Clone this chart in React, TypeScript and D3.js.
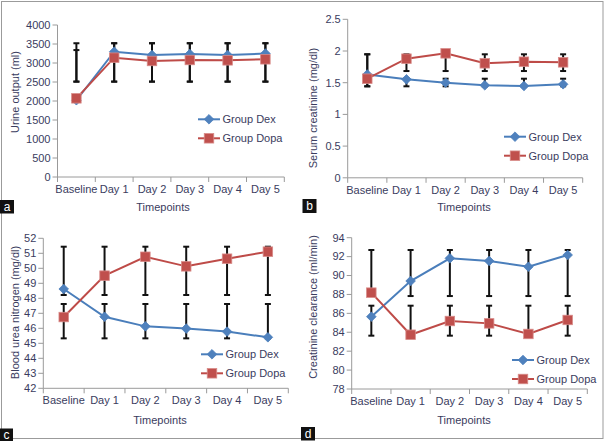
import React from "react";
import * as d3 from "d3";

const categories = ["Baseline", "Day 1", "Day 2", "Day 3", "Day 4", "Day 5"];
const seriesNames = ["Group Dex", "Group Dopa"];

// a: Urine output
const urineDex = [2020, 3297, 3210, 3237, 3210, 3250];
const urineDopa = [2070, 3140, 3053, 3079, 3070, 3097];
const urineDexLow = [2510, 2510, 2510, 2510, 2510, 2510];
const urineDexHigh = [3520, 3520, 3520, 3520, 3520, 3520];
const urineDopaLow = [2510, 2510, 2510, 2510, 2510, 2510];
const urineDopaHigh = [3340, 3520, 3520, 3520, 3520, 3520];
const urineTicks = [0, 500, 1000, 1500, 2000, 2500, 3000, 3500, 4000];

// b: Serum creatinine
const creatDex = [1.63, 1.553, 1.5, 1.459, 1.448, 1.475];
const creatDopa = [1.563, 1.879, 1.963, 1.806, 1.831, 1.821];
const creatDexLow = [1.443, 1.443, 1.443, 1.443, 1.443, 1.443];
const creatDexHigh = [1.948, 1.563, 1.563, 1.563, 1.563, 1.563];
const creatDopaLow = [1.443, 1.684, 1.684, 1.684, 1.684, 1.684];
const creatDopaHigh = [1.948, 1.948, 1.948, 1.948, 1.948, 1.948];
const creatTicks = [0, 0.5, 1, 1.5, 2, 2.5];

// c: Blood urea nitrogen
const bunDex = [48.62, 46.77, 46.13, 45.98, 45.78, 45.4];
const bunDopa = [46.75, 49.51, 50.77, 50.13, 50.64, 51.11];
const bunDexLow = [45.33, 45.33, 45.33, 45.33, 45.33, 45.33];
const bunDexHigh = [47.62, 47.62, 47.62, 47.62, 47.62, 47.62];
const bunDopaLow = [48.22, 48.22, 48.22, 48.22, 48.22, 48.22];
const bunDopaHigh = [51.44, 51.44, 51.44, 51.44, 51.44, 51.44];
const bunTicks = [42, 43, 44, 45, 46, 47, 48, 49, 50, 51, 52];

// d: Creatinine clearance
const clrDex = [85.65, 89.42, 91.82, 91.54, 90.93, 92.17];
const clrDopa = [88.19, 83.74, 85.19, 84.94, 83.82, 85.3];
const clrDexLow = [87.83, 87.83, 87.83, 87.83, 87.83, 87.83];
const clrDexHigh = [92.7, 92.7, 92.7, 92.7, 92.7, 92.7];
const clrDopaLow = [83.64, 83.64, 83.64, 83.64, 83.64, 83.64];
const clrDopaHigh = [86.81, 86.81, 86.81, 86.81, 86.81, 86.81];
const clrTicks = [78, 80, 82, 84, 86, 88, 90, 92, 94];

const yTitles = [
  "Urine output (ml)",
  "Serum creatinine (mg/dl)",
  "Blood urea nitrogen (mg/dl)",
  "Creatinine clearance (ml/min)",
];
const panelTags = ["a", "b", "c", "d"];
const xTitle = "Timepoints";

const panelsData = [
  { dex: urineDex, dopa: urineDopa, dexLow: urineDexLow, dexHigh: urineDexHigh, dopaLow: urineDopaLow, dopaHigh: urineDopaHigh, ticks: urineTicks },
  { dex: creatDex, dopa: creatDopa, dexLow: creatDexLow, dexHigh: creatDexHigh, dopaLow: creatDopaLow, dopaHigh: creatDopaHigh, ticks: creatTicks },
  { dex: bunDex, dopa: bunDopa, dexLow: bunDexLow, dexHigh: bunDexHigh, dopaLow: bunDopaLow, dopaHigh: bunDopaHigh, ticks: bunTicks },
  { dex: clrDex, dopa: clrDopa, dexLow: clrDexLow, dexHigh: clrDexHigh, dopaLow: clrDopaLow, dopaHigh: clrDopaHigh, ticks: clrTicks },
];

// layout (pixels)
const layouts = [
  { x0: 57.5, x1: 284.3, yTop: 25, yBot: 177, legX: 198, legY: 119.3, tX: 163, tY: 207.5, ytX: 15, ytY: 92, tag: [0, 200, 14, 13.5] },
  { x0: 347.7, x1: 582.7, yTop: 19.3, yBot: 177.8, legX: 504, legY: 136.7, tX: 464, tY: 207.5, ytX: 313.5, ytY: 108, tag: [302.5, 199, 14, 14] },
  { x0: 43.3, x1: 288.3, yTop: 238.3, yBot: 388.3, legX: 201, legY: 354.3, tX: 160, tY: 420.5, ytX: 15, ytY: 312.5, tag: [0, 428.5, 13, 12.5] },
  { x0: 351.7, x1: 587.3, yTop: 237.7, yBot: 389, legX: 512, legY: 360, tX: 464, tY: 420.5, ytX: 313.5, ytY: 307, tag: [301, 427, 14, 13.5] },
];

const DEX_LINE = "#4A7EBB";
const DEX_FILL = "#4F81BD";
const DOPA_LINE = "#BE4B48";
const DOPA_FILL = "#C0504D";
const AXIS = "#9a9a9a";
const TEXT = "#3a3c5e";
const FONT = "'Liberation Sans', Arial, sans-serif";

function Diamond({ x, y, r = 4.8 }: { x: number; y: number; r?: number }) {
  return (
    <path
      d={`M${x},${y - r}L${x + r},${y}L${x},${y + r}L${x - r},${y}Z`}
      fill={DEX_FILL}
      stroke={DEX_LINE}
      strokeWidth={0.8}
    />
  );
}

function Square({ x, y, s = 9.5 }: { x: number; y: number; s?: number }) {
  return (
    <rect x={x - s / 2} y={y - s / 2} width={s} height={s} fill={DOPA_FILL} stroke="#d88a88" strokeWidth={0.8} />
  );
}

function Panel({ idx }: { idx: number }) {
  const p = panelsData[idx];
  const L = layouts[idx];
  const ticks = p.ticks;
  const y = d3
    .scaleLinear()
    .domain([ticks[0], ticks[ticks.length - 1]])
    .range([L.yBot, L.yTop]);
  const xb = d3.scaleBand<string>().domain(categories).range([L.x0, L.x1]).padding(0);
  const cx = (c: string) => (xb(c) as number) + xb.bandwidth() / 2;
  const line = d3
    .line<number>()
    .x((_, i) => cx(categories[i]))
    .y((v) => y(v));
  const bounds = categories.map((c) => xb(c) as number).concat([L.x1]);
  const cap = 3;

  const errBars = (low: number[], high: number[], key: string) =>
    categories.map((c, i) => {
      const x = cx(c);
      return (
        <g key={key + i} stroke="#111" strokeWidth={2}>
          <line x1={x} x2={x} y1={y(low[i])} y2={y(high[i])} />
          <line x1={x - cap} x2={x + cap} y1={y(low[i])} y2={y(low[i])} />
          <line x1={x - cap} x2={x + cap} y1={y(high[i])} y2={y(high[i])} />
        </g>
      );
    });

  return (
    <g fontFamily={FONT}>
      {/* y axis */}
      <line x1={L.x0} x2={L.x0} y1={L.yTop} y2={L.yBot} stroke={AXIS} strokeWidth={1} />
      {ticks.map((t) => (
        <g key={"yt" + t}>
          <line x1={L.x0 - 5} x2={L.x0} y1={y(t)} y2={y(t)} stroke={AXIS} strokeWidth={1} />
          <text x={L.x0 - 7} y={y(t)} dy="0.35em" textAnchor="end" fontSize={11} fill={TEXT}>
            {String(+t.toFixed(2))}
          </text>
        </g>
      ))}
      {/* x axis */}
      <line x1={L.x0} x2={L.x1} y1={L.yBot} y2={L.yBot} stroke={AXIS} strokeWidth={1} />
      {bounds.map((b, i) => (
        <line key={"xb" + i} x1={b} x2={b} y1={L.yBot} y2={L.yBot + 5} stroke={AXIS} strokeWidth={1} />
      ))}
      {categories.map((c) => (
        <text key={"xl" + c} x={cx(c)} y={L.yBot + 12} dy="0.35em" textAnchor="middle" fontSize={11} fill={TEXT}>
          {c}
        </text>
      ))}
      <text x={L.tX} y={L.tY} dy="0.35em" textAnchor="middle" fontSize={11} fill={TEXT}>
        {xTitle}
      </text>
      <text
        transform={`translate(${L.ytX},${L.ytY}) rotate(-90)`}
        dy="0.35em"
        textAnchor="middle"
        fontSize={11}
        fill={TEXT}
      >
        {yTitles[idx]}
      </text>
      {/* error bars */}
      {errBars(p.dexLow, p.dexHigh, "de")}
      {errBars(p.dopaLow, p.dopaHigh, "do")}
      {/* lines */}
      <path d={line(p.dex) as string} fill="none" stroke={DEX_LINE} strokeWidth={2} />
      <path d={line(p.dopa) as string} fill="none" stroke={DOPA_LINE} strokeWidth={2} />
      {p.dex.map((v, i) => (
        <Diamond key={"dm" + i} x={cx(categories[i])} y={y(v)} />
      ))}
      {p.dopa.map((v, i) => (
        <Square key={"sq" + i} x={cx(categories[i])} y={y(v)} />
      ))}
      {/* legend */}
      {seriesNames.map((n, i) => {
        const ly = L.legY + i * 19;
        return (
          <g key={"lg" + n}>
            <line x1={L.legX} x2={L.legX + 22} y1={ly} y2={ly} stroke={i === 0 ? DEX_LINE : DOPA_LINE} strokeWidth={2} />
            {i === 0 ? <Diamond x={L.legX + 11} y={ly} /> : <Square x={L.legX + 11} y={ly} />}
            <text x={L.legX + 24.5} y={ly} dy="0.35em" fontSize={11} fill={TEXT}>
              {n}
            </text>
          </g>
        );
      })}
      {/* panel tag */}
      <rect x={L.tag[0]} y={L.tag[1]} width={L.tag[2]} height={L.tag[3]} fill="#111" />
      <text
        x={L.tag[0] + L.tag[2] / 2}
        y={L.tag[1] + L.tag[3] / 2}
        dy="0.33em"
        textAnchor="middle"
        fontSize={12}
        fill="#fff"
      >
        {panelTags[idx]}
      </text>
    </g>
  );
}

export default function App() {
  return (
    <svg
      width={605}
      height={441}
      style={{ position: "absolute", left: 0, top: 0, background: "#fff" }}
    >
      <rect x={0} y={0} width={605} height={441} fill="#fff" />
      <rect x={1.5} y={1.5} width={601.5} height={437} fill="none" stroke="#9b9b9b" strokeWidth={1} />
      {panelsData.map((_, i) => (
        <Panel key={i} idx={i} />
      ))}
    </svg>
  );
}
